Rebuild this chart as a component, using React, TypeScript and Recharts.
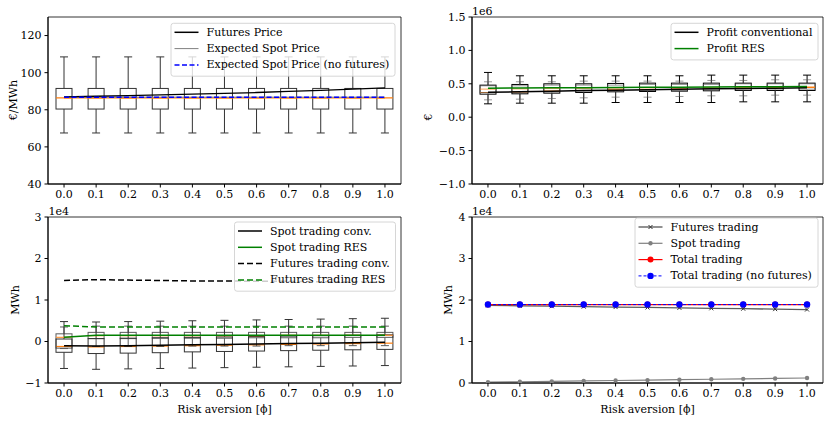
import React from "react"
import { ComposedChart, LineChart, Line, Bar, XAxis, YAxis, ReferenceArea } from "recharts"

const FONT = "DejaVu Serif"
const FS = 11

const riskLevels = ["0.0", "0.1", "0.2", "0.3", "0.4", "0.5", "0.6", "0.7", "0.8", "0.9", "1.0"]

// prices, €/MWh
const futuresPrice = [86.9, 87.3, 87.6, 88.0, 88.4, 88.8, 89.3, 89.9, 90.5, 91.1, 91.8]
const expectedSpotPrice = [86.8, 86.8, 86.8, 86.8, 86.8, 86.8, 86.8, 86.8, 86.8, 86.8, 86.8]
const expectedSpotNoFutures = [86.8, 86.8, 86.8, 86.8, 86.8, 86.8, 86.8, 86.8, 86.8, 86.8, 86.8]
const priceLow = [67.5, 67.5, 67.5, 67.5, 67.5, 67.5, 67.5, 67.5, 67.5, 67.5, 67.5]
const priceQ1 = [80.4, 80.4, 80.4, 80.4, 80.4, 80.4, 80.4, 80.4, 80.4, 80.4, 80.4]
const priceMedian = [86.4, 86.4, 86.4, 86.4, 86.4, 86.4, 86.4, 86.4, 86.4, 86.4, 86.4]
const priceQ3 = [91.5, 91.5, 91.5, 91.5, 91.5, 91.5, 91.5, 91.5, 91.5, 91.5, 91.5]
const priceHigh = [108.5, 108.5, 108.5, 108.5, 108.5, 108.5, 108.5, 108.5, 108.5, 108.5, 108.5]

// profits, 1e6 €
const profitConv = [0.375, 0.38, 0.39, 0.4, 0.405, 0.41, 0.42, 0.425, 0.43, 0.435, 0.44]
const profitRes = [0.435, 0.437, 0.44, 0.442, 0.445, 0.447, 0.45, 0.452, 0.455, 0.457, 0.46]
const convProfitLow = [0.2, 0.21, 0.21, 0.21, 0.22, 0.22, 0.22, 0.22, 0.23, 0.23, 0.23]
const convProfitQ1 = [0.345, 0.35, 0.36, 0.37, 0.38, 0.385, 0.39, 0.395, 0.4, 0.4, 0.4]
const convProfitMedian = [0.37, 0.38, 0.39, 0.4, 0.41, 0.415, 0.42, 0.43, 0.435, 0.44, 0.445]
const convProfitQ3 = [0.48, 0.49, 0.5, 0.5, 0.505, 0.51, 0.51, 0.51, 0.51, 0.51, 0.51]
const convProfitHigh = [0.67, 0.62, 0.62, 0.62, 0.62, 0.62, 0.62, 0.63, 0.63, 0.63, 0.63]
const resProfitLow = [0.26, 0.27, 0.28, 0.29, 0.3, 0.3, 0.31, 0.32, 0.32, 0.33, 0.33]
const resProfitQ1 = [0.37, 0.38, 0.38, 0.39, 0.39, 0.4, 0.4, 0.41, 0.41, 0.42, 0.42]
const resProfitMedian = [0.42, 0.425, 0.43, 0.43, 0.435, 0.44, 0.44, 0.445, 0.45, 0.45, 0.45]
const resProfitQ3 = [0.47, 0.47, 0.48, 0.48, 0.48, 0.49, 0.49, 0.49, 0.5, 0.5, 0.5]
const resProfitHigh = [0.53, 0.53, 0.53, 0.54, 0.54, 0.54, 0.54, 0.55, 0.55, 0.56, 0.56]

// trading per producer, 1e4 MWh
const spotConv = [-0.1, -0.11, -0.1, -0.09, -0.08, -0.07, -0.06, -0.05, -0.04, -0.03, -0.02]
const spotRes = [0.1, 0.15, 0.15, 0.15, 0.15, 0.15, 0.15, 0.15, 0.15, 0.15, 0.15]
const futuresConv = [1.47, 1.49, 1.48, 1.47, 1.46, 1.46, 1.45, 1.45, 1.44, 1.44, 1.43]
const futuresRes = [0.38, 0.35, 0.35, 0.35, 0.35, 0.35, 0.35, 0.35, 0.35, 0.35, 0.35]
const convSpotLow = [-0.65, -0.67, -0.66, -0.65, -0.64, -0.63, -0.62, -0.61, -0.6, -0.59, -0.58]
const convSpotQ1 = [-0.26, -0.29, -0.28, -0.27, -0.25, -0.24, -0.23, -0.22, -0.21, -0.2, -0.19]
const convSpotMedian = [-0.12, -0.13, -0.12, -0.11, -0.1, -0.09, -0.08, -0.07, -0.06, -0.05, -0.04]
const convSpotQ3 = [0.06, 0.07, 0.08, 0.09, 0.1, 0.11, 0.12, 0.13, 0.14, 0.15, 0.16]
const convSpotHigh = [0.48, 0.47, 0.48, 0.49, 0.5, 0.51, 0.52, 0.53, 0.54, 0.55, 0.56]
const resSpotLow = [-0.17, -0.12, -0.12, -0.12, -0.11, -0.11, -0.11, -0.1, -0.1, -0.1, -0.1]
const resSpotQ1 = [-0.16, 0.07, 0.07, 0.08, 0.08, 0.08, 0.09, 0.09, 0.09, 0.1, 0.1]
const resSpotMedian = [0.1, 0.14, 0.14, 0.14, 0.14, 0.14, 0.14, 0.15, 0.15, 0.15, 0.15]
const resSpotQ3 = [0.185, 0.22, 0.22, 0.22, 0.22, 0.22, 0.22, 0.22, 0.22, 0.22, 0.22]
const resSpotHigh = [0.35, 0.37, 0.37, 0.37, 0.37, 0.37, 0.37, 0.37, 0.37, 0.37, 0.37]

// total trading, 1e4 MWh
const futuresTrading = [1.87, 1.86, 1.85, 1.84, 1.83, 1.82, 1.81, 1.8, 1.79, 1.78, 1.77]
const spotTrading = [0.02, 0.03, 0.04, 0.05, 0.06, 0.07, 0.08, 0.09, 0.1, 0.11, 0.12]
const totalTrading = [1.89, 1.89, 1.89, 1.89, 1.89, 1.89, 1.89, 1.89, 1.89, 1.89, 1.89]
const totalNoFutures = [1.89, 1.89, 1.89, 1.89, 1.89, 1.89, 1.89, 1.89, 1.89, 1.89, 1.89]

const priceRows = riskLevels.map((risk, i) => ({
  risk,
  futures: futuresPrice[i],
  spot: expectedSpotPrice[i],
  spotNoFut: expectedSpotNoFutures[i],
  pLo: priceLow[i], pQ1: priceQ1[i], pMed: priceMedian[i], pQ3: priceQ3[i], pHi: priceHigh[i],
}))

const profitRows = riskLevels.map((risk, i) => ({
  risk,
  conv: profitConv[i],
  res: profitRes[i],
  cLo: convProfitLow[i], cQ1: convProfitQ1[i], cMed: convProfitMedian[i], cQ3: convProfitQ3[i], cHi: convProfitHigh[i],
  rLo: resProfitLow[i], rQ1: resProfitQ1[i], rMed: resProfitMedian[i], rQ3: resProfitQ3[i], rHi: resProfitHigh[i],
}))

const spotRows = riskLevels.map((risk, i) => ({
  risk,
  spotConv: spotConv[i],
  spotRes: spotRes[i],
  futConv: futuresConv[i],
  futRes: futuresRes[i],
  cLo: convSpotLow[i], cQ1: convSpotQ1[i], cMed: convSpotMedian[i], cQ3: convSpotQ3[i], cHi: convSpotHigh[i],
  rLo: resSpotLow[i], rQ1: resSpotQ1[i], rMed: resSpotMedian[i], rQ3: resSpotQ3[i], rHi: resSpotHigh[i],
}))

const tradingRows = riskLevels.map((risk, i) => ({
  risk,
  futures: futuresTrading[i],
  spot: spotTrading[i],
  total: totalTrading[i],
  totalNoFut: totalNoFutures[i],
}))

const minus = (s: string) => s.replace("-", "\u2212")

// whisker box drawn inside the bar that spans [lo, hi]
const BoxShape = (props: any) => {
  const { x, y, width, height, payload, p, stroke, opacity } = props
  const lo = payload[p + "Lo"]
  const hi = payload[p + "Hi"]
  const top = Math.min(y, y + height)
  const h = Math.abs(height)
  const py = (v: number) => top + (h * (hi - v)) / (hi - lo)
  const cx = x + width / 2
  const cap = width / 4
  const q1 = py(payload[p + "Q1"])
  const q3 = py(payload[p + "Q3"])
  const med = py(payload[p + "Med"])
  return (
    <g opacity={opacity}>
      <g stroke={stroke} strokeWidth={1} fill="none">
        <line x1={cx} x2={cx} y1={py(hi)} y2={q3} />
        <line x1={cx} x2={cx} y1={q1} y2={py(lo)} />
        <line x1={cx - cap} x2={cx + cap} y1={py(hi)} y2={py(hi)} />
        <line x1={cx - cap} x2={cx + cap} y1={py(lo)} y2={py(lo)} />
        <rect x={x} y={q3} width={width} height={q1 - q3} />
      </g>
      <line x1={x} x2={x + width} y1={med} y2={med} stroke="#ff7f0e" strokeWidth={1.2} />
    </g>
  )
}

const XMark = (props: any) => {
  const { cx, cy } = props
  if (cx == null || cy == null) return null
  return (
    <g stroke="#333" strokeWidth={1}>
      <line x1={cx - 2} y1={cy - 2} x2={cx + 2} y2={cy + 2} />
      <line x1={cx - 2} y1={cy + 2} x2={cx + 2} y2={cy - 2} />
    </g>
  )
}

const tick = { fontSize: FS, fill: "#000", fontFamily: FONT }

type Item = { label: string; color: string; dash?: string; width?: number; marker?: "dot" | "x"; r?: number }

const LegendBox = ({ x, y, w, items }: { x: number; y: number; w: number; items: Item[] }) => {
  const rowH = 16.3
  return (
    <g>
      <rect x={x} y={y} width={w} height={items.length * rowH + 4} rx={2.5} fill="#fff" fillOpacity={0.8} stroke="#cccccc" strokeWidth={0.8} />
      {items.map((it, i) => {
        const cy = y + 9 + i * rowH
        const x1 = x + 3.5
        const x2 = x + 27.5
        const mx = (x1 + x2) / 2
        return (
          <g key={it.label}>
            <line x1={x1} x2={x2} y1={cy} y2={cy} stroke={it.color} strokeWidth={it.width ?? 1.5} strokeDasharray={it.dash} />
            {it.marker === "dot" && <circle cx={mx} cy={cy} r={it.r ?? 2.5} fill={it.color} />}
            {it.marker === "x" && <XMark cx={mx} cy={cy} />}
            <text x={x + 35.5} y={cy} dominantBaseline="central" fontSize={FS} fontFamily={FONT} fill="#000">
              {it.label}
            </text>
          </g>
        )
      })}
    </g>
  )
}

const Frame = ({ y1, y2 }: { y1: number; y2: number }) => (
  <ReferenceArea y1={y1} y2={y2} fill="none" stroke="#000" strokeWidth={0.8} ifOverflow="visible" />
)

export default function App() {
  const pos = (left: number, top: number): React.CSSProperties => ({ position: "absolute", left, top })
  return (
    <div style={{ position: "absolute", left: 0, top: 0, width: 830, height: 422, background: "#fff", fontFamily: FONT }}>
      <div style={pos(0, 0)}>
        <ComposedChart width={415} height={211} data={priceRows} margin={{ top: 17, right: 14, left: 0, bottom: 0 }}>
          <XAxis dataKey="risk" height={27} tick={tick} tickSize={3.5} tickMargin={3} stroke="#000" />
          <XAxis dataKey="risk" xAxisId="b" hide />
          <YAxis width={48} domain={[40, 130]} ticks={[40, 60, 80, 100, 120]} tick={tick} tickSize={3.5} tickMargin={3} stroke="#000" allowDataOverflow />
          <Bar dataKey={(d: any) => [d.pLo, d.pHi]} barSize={16} isAnimationActive={false} shape={(p: any) => <BoxShape {...p} p="p" stroke="#333" opacity={1} />} />
          <Line dataKey="pMed" stroke="#ff7f0e" strokeWidth={1.2} dot={false} isAnimationActive={false} />
          <Line dataKey="spot" stroke="#808080" strokeWidth={1} dot={false} isAnimationActive={false} />
          <Line dataKey="futures" stroke="#000" strokeWidth={1.3} dot={false} isAnimationActive={false} />
          <Line dataKey="spotNoFut" stroke="#0000ff" strokeWidth={1.5} strokeDasharray="5 2.5" dot={false} isAnimationActive={false} />
          <Frame y1={40} y2={130} />
        </ComposedChart>
      </div>

      <div style={pos(415, 0)}>
        <ComposedChart width={415} height={211} data={profitRows} margin={{ top: 17, right: 7, left: 0, bottom: 0 }}>
          <XAxis dataKey="risk" height={27} tick={tick} tickSize={3.5} tickMargin={3} stroke="#000" />
          <XAxis dataKey="risk" xAxisId="b" hide />
          <YAxis width={57} domain={[-1, 1.5]} ticks={[-1, -0.5, 0, 0.5, 1, 1.5]} tickFormatter={(v: number) => minus(v.toFixed(1))} tick={tick} tickSize={3.5} tickMargin={3} stroke="#000" allowDataOverflow />
          <Bar dataKey={(d: any) => [d.cLo, d.cHi]} barSize={16} isAnimationActive={false} shape={(p: any) => <BoxShape {...p} p="c" stroke="#000" opacity={1} />} />
          <Bar xAxisId="b" dataKey={(d: any) => [d.rLo, d.rHi]} barSize={16} isAnimationActive={false} shape={(p: any) => <BoxShape {...p} p="r" stroke="#555" opacity={0.6} />} />
          <Line dataKey="conv" stroke="#000" strokeWidth={1.5} dot={false} isAnimationActive={false} />
          <Line dataKey="res" stroke="#008000" strokeWidth={1.5} dot={false} isAnimationActive={false} />
          <Frame y1={-1} y2={1.5} />
        </ComposedChart>
      </div>

      <div style={pos(0, 211)}>
        <ComposedChart width={415} height={211} data={spotRows} margin={{ top: 6, right: 14, left: 0, bottom: 0 }}>
          <XAxis dataKey="risk" height={39} tick={tick} tickSize={3.5} tickMargin={3} stroke="#000" />
          <XAxis dataKey="risk" xAxisId="b" hide />
          <YAxis width={48} domain={[-1, 3]} ticks={[-1, 0, 1, 2, 3]} tickFormatter={(v: number) => minus(String(v))} tick={tick} tickSize={3.5} tickMargin={3} stroke="#000" allowDataOverflow />
          <Bar dataKey={(d: any) => [d.cLo, d.cHi]} barSize={16} isAnimationActive={false} shape={(p: any) => <BoxShape {...p} p="c" stroke="#333" opacity={1} />} />
          <Bar xAxisId="b" dataKey={(d: any) => [d.rLo, d.rHi]} barSize={16} isAnimationActive={false} shape={(p: any) => <BoxShape {...p} p="r" stroke="#333" opacity={0.8} />} />
          <Line dataKey="spotConv" stroke="#000" strokeWidth={1.5} dot={false} isAnimationActive={false} />
          <Line dataKey="spotRes" stroke="#008000" strokeWidth={1.5} dot={false} isAnimationActive={false} />
          <Line dataKey="futConv" stroke="#000" strokeWidth={1.5} strokeDasharray="6 3" dot={false} isAnimationActive={false} />
          <Line dataKey="futRes" stroke="#008000" strokeWidth={1.5} strokeDasharray="6 3" dot={false} isAnimationActive={false} />
          <Frame y1={-1} y2={3} />
        </ComposedChart>
      </div>

      <div style={pos(415, 211)}>
        <LineChart width={415} height={211} data={tradingRows} margin={{ top: 6, right: 7, left: 0, bottom: 0 }}>
          <XAxis dataKey="risk" scale="band" height={39} tick={tick} tickSize={3.5} tickMargin={3} stroke="#000" />
          <YAxis width={57} domain={[0, 4]} ticks={[0, 1, 2, 3, 4]} tick={tick} tickSize={3.5} tickMargin={3} stroke="#000" allowDataOverflow />
          <Line dataKey="futures" stroke="#333" strokeOpacity={0.8} strokeWidth={1.3} dot={<XMark />} isAnimationActive={false} />
          <Line dataKey="spot" stroke="#808080" strokeWidth={1.2} dot={{ r: 2.2, fill: "#808080", stroke: "none" }} isAnimationActive={false} />
          <Line dataKey="total" stroke="#ff0000" strokeWidth={1.2} dot={{ r: 3, fill: "#ff0000", stroke: "none" }} isAnimationActive={false} />
          <Line dataKey="totalNoFut" stroke="#0000ff" strokeWidth={1} strokeDasharray="3 2" dot={{ r: 3.2, fill: "#0000ff", stroke: "none" }} isAnimationActive={false} />
          <Frame y1={0} y2={4} />
        </LineChart>
      </div>

      <svg width={830} height={422} style={{ position: "absolute", left: 0, top: 0, pointerEvents: "none" }}>
        <g fontFamily={FONT} fontSize={FS} fill="#000">
          <text x={13} y={100} textAnchor="middle" dominantBaseline="central" transform="rotate(-90 13 100)">€/MWh</text>
          <text x={428} y={117} textAnchor="middle" dominantBaseline="central" transform="rotate(-90 428 117)">€</text>
          <text x={15} y={300} textAnchor="middle" dominantBaseline="central" transform="rotate(-90 15 300)">MWh</text>
          <text x={448} y={300} textAnchor="middle" dominantBaseline="central" transform="rotate(-90 448 300)">MWh</text>
          <text x={224.5} y={409} textAnchor="middle" dominantBaseline="central">Risk aversion [ϕ]</text>
          <text x={647.5} y={409} textAnchor="middle" dominantBaseline="central">Risk aversion [ϕ]</text>
          <text x={472} y={14.5}>1e6</text>
          <text x={48.5} y={214.5}>1e4</text>
          <text x={472} y={214.5}>1e4</text>
        </g>
        <LegendBox
          x={171}
          y={23.3}
          w={224}
          items={[
            { label: "Futures Price", color: "#000" },
            { label: "Expected Spot Price", color: "#808080", width: 1 },
            { label: "Expected Spot Price (no futures)", color: "#0000ff", dash: "5 2.5" },
          ]}
        />
        <LegendBox
          x={671}
          y={23.3}
          w={147}
          items={[
            { label: "Profit conventional", color: "#000" },
            { label: "Profit RES", color: "#008000" },
          ]}
        />
        <LegendBox
          x={234.5}
          y={222}
          w={161}
          items={[
            { label: "Spot trading conv.", color: "#000" },
            { label: "Spot trading RES", color: "#008000" },
            { label: "Futures trading conv.", color: "#000", dash: "6 3" },
            { label: "Futures trading RES", color: "#008000", dash: "6 3" },
          ]}
        />
        <LegendBox
          x={635}
          y={218}
          w={183}
          items={[
            { label: "Futures trading", color: "#555", width: 1.3, marker: "x" },
            { label: "Spot trading", color: "#808080", width: 1.2, marker: "dot", r: 2.2 },
            { label: "Total trading", color: "#ff0000", width: 1.2, marker: "dot", r: 3 },
            { label: "Total trading (no futures)", color: "#0000ff", width: 1, dash: "3 2", marker: "dot", r: 3.2 },
          ]}
        />
      </svg>
    </div>
  )
}
